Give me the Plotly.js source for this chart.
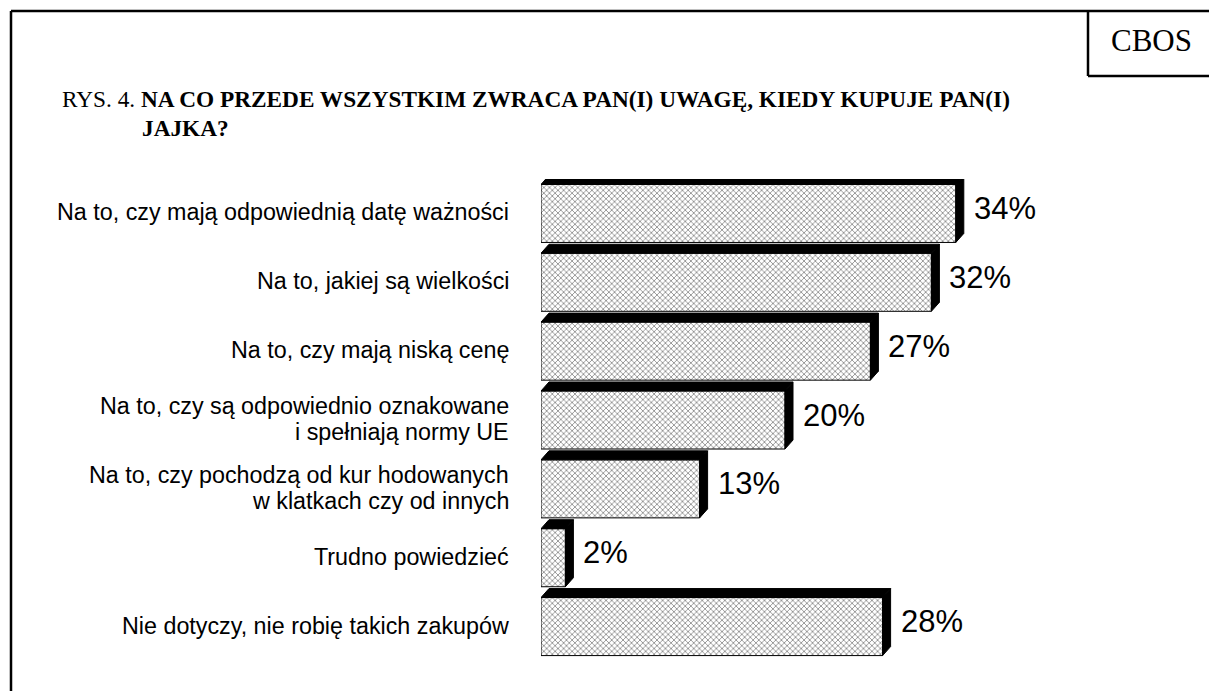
<!DOCTYPE html>
<html><head><meta charset="utf-8">
<script src="https://cdn.plot.ly/plotly-3.0.1.min.js"></script>
<style>html,body{margin:0;padding:0;background:#fff}#chart{width:1209px;height:691px}</style>
</head><body><div id="chart"></div>
<script>
// ---- data ----
const categories = [
  "Na to, czy mają odpowiednią datę ważności",
  "Na to, jakiej są wielkości",
  "Na to, czy mają niską cenę",
  "Na to, czy są odpowiednio oznakowane\ni spełniają normy UE",
  "Na to, czy pochodzą od kur hodowanych\nw klatkach czy od innych",
  "Trudno powiedzieć",
  "Nie dotyczy, nie robię takich zakupów"
];
const values = [34, 32, 27, 20, 13, 2, 28];
const valueLabels = values.map(v => v + "%");
const titlePrefix = "RYS. 4.";
const titleLine1 = "NA CO PRZEDE WSZYSTKIM ZWRACA PAN(I) UWAGĘ, KIEDY KUPUJE PAN(I)";
const titleLine2 = "JAJKA?";
const sourceLabel = "CBOS";

// ---- layout constants ----
const W = 1209, H = 691, L = 541, R = 58, T = 179, B = 30;
const plotW = W - L - R, plotH = H - T - B;
const XMAX = 50;
const positions = categories.map((_, i) => i);
const BAR_W = 0.843;
const DEPTH_PX_X = 8, DEPTH_PX_Y = 9;
const DX = DEPTH_PX_X * XMAX / plotW;
const DY = DEPTH_PX_Y * (categories.length) / plotH;
const px2x = px => (px - L) / plotW;
const py2y = py => (H - B - py) / plotH;

const sans = "Liberation Sans, Arial, sans-serif";
const serif = "Liberation Serif, Times New Roman, serif";

const bars = {
  type: "bar", orientation: "h",
  x: values, y: positions, width: BAR_W,
  marker: {
    color: "#ffffff",
    pattern: {shape: "x", size: 4, solidity: 0.35, fgcolor: "#000000", bgcolor: "#ffffff", fillmode: "overlay"},
    line: {color: "#000000", width: 1}
  },
  hoverinfo: "skip", showlegend: false
};

const shapes = [];
values.forEach((v, i) => {
  const yTop = i - BAR_W / 2, yBot = i + BAR_W / 2;
  shapes.push({type: "path", xref: "x", yref: "y", layer: "above",
    path: `M 0,${yTop} L ${DX},${yTop - DY} L ${v + DX},${yTop - DY} L ${v},${yTop} Z`,
    fillcolor: "#000", line: {color: "#000", width: 1}});
  shapes.push({type: "path", xref: "x", yref: "y", layer: "above",
    path: `M ${v},${yTop} L ${v + DX},${yTop - DY} L ${v + DX},${yBot - DY} L ${v},${yBot} Z`,
    fillcolor: "#000", line: {color: "#000", width: 1}});
});
// frame
const frameLine = {color: "#000", width: 2.5};
shapes.push({type: "line", xref: "paper", yref: "paper", x0: px2x(11), x1: px2x(W + 5), y0: py2y(11), y1: py2y(11), line: frameLine});
shapes.push({type: "line", xref: "paper", yref: "paper", x0: px2x(11), x1: px2x(11), y0: py2y(11), y1: py2y(H + 5), line: frameLine});
shapes.push({type: "line", xref: "paper", yref: "paper", x0: px2x(1088), x1: px2x(1088), y0: py2y(11), y1: py2y(76), line: frameLine});
shapes.push({type: "line", xref: "paper", yref: "paper", x0: px2x(1088), x1: px2x(W + 5), y0: py2y(76), y1: py2y(76), line: frameLine});

const annotations = [];
// value labels
values.forEach((v, i) => {
  annotations.push({x: v, y: i, xref: "x", yref: "y", text: valueLabels[i], showarrow: false,
    xanchor: "left", yanchor: "middle", xshift: 16, yshift: 5,
    font: {family: sans, size: 31, color: "#000"}});
});
// category labels (one annotation per line for tight spacing)
const LINE_GAP = 26;
categories.forEach((c, i) => {
  const lines = c.split("\n");
  lines.forEach((ln, k) => {
    annotations.push({x: 0, y: i, xref: "paper", yref: "y", text: ln, showarrow: false,
      xanchor: "right", yanchor: "middle", xshift: -30,
      yshift: ((lines.length - 1) / 2 - k) * LINE_GAP + 1,
      font: {family: sans, size: 23.3, color: "#000"}});
  });
});
// title
annotations.push({xref: "paper", yref: "paper", x: px2x(60), y: py2y(99), xanchor: "left", yanchor: "middle",
  text: titlePrefix + " <b>" + titleLine1 + "</b>", showarrow: false,
  font: {family: serif, size: 23.3, color: "#000"}});
annotations.push({xref: "paper", yref: "paper", x: px2x(140), y: py2y(128), xanchor: "left", yanchor: "middle",
  text: "<b>" + titleLine2 + "</b>", showarrow: false,
  font: {family: serif, size: 23.3, color: "#000"}});
// source box label
annotations.push({xref: "paper", yref: "paper", x: px2x(1151), y: py2y(41), xanchor: "center", yanchor: "middle",
  text: sourceLabel, showarrow: false, font: {family: serif, size: 31, color: "#000"}});

const layout = {
  width: W, height: H,
  margin: {l: L, r: R, t: T, b: B, pad: 0},
  paper_bgcolor: "#fff", plot_bgcolor: "#fff",
  xaxis: {range: [0, XMAX], visible: false, fixedrange: true},
  yaxis: {range: [categories.length - 0.5, -0.5], visible: false, fixedrange: true},
  bargap: 0,
  shapes: shapes, annotations: annotations,
  showlegend: false
};
Plotly.newPlot("chart", [bars], layout, {displayModeBar: false, staticPlot: true});
</script></body></html>
